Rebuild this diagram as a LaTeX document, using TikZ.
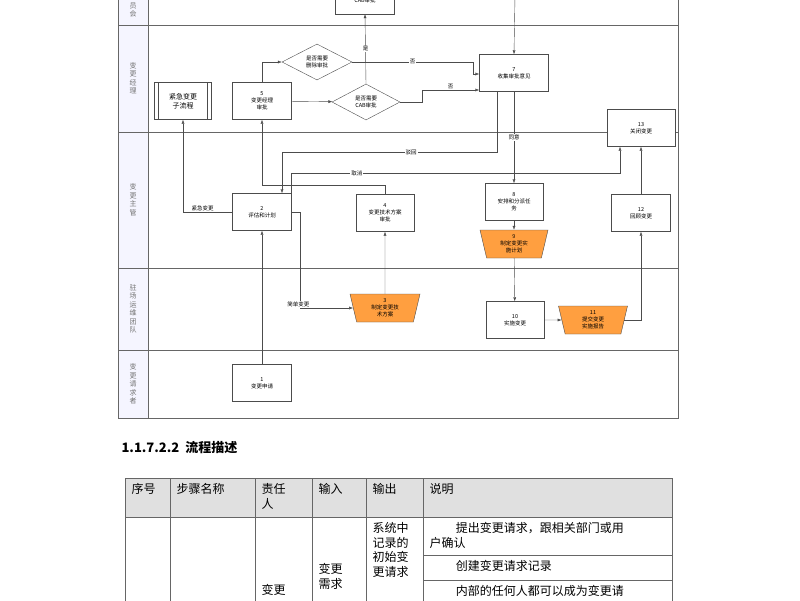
\documentclass[tikz,border=0pt]{standalone}
\usepackage{fontspec}
\setmainfont{Noto Sans CJK SC}
\usetikzlibrary{shapes.geometric,arrows.meta}

\begin{document}
\begin{tikzpicture}[x=1pt,y=-1pt,
    box/.style={draw=black!70,fill=white,minimum width=59pt,minimum height=37pt,
        inner sep=1pt,align=center,font=\fontsize{5.5}{7}\selectfont},
    task/.style={trapezium,trapezium stretches body,shape border rotate=180,
        trapezium angle=72,draw=black!70,fill=orange!75,minimum width=68pt,
        minimum height=28pt,inner sep=1pt,align=center,font=\fontsize{5.5}{7}\selectfont},
    choice/.style={diamond,aspect=2,draw=black!70,fill=white,minimum width=70pt,
        minimum height=36pt,inner sep=0pt,align=center,font=\fontsize{5.5}{7}\selectfont},
    flow/.style={draw=black!70,-{Latex[length=4pt,width=3pt]}},
    lbl/.style={fill=white,inner sep=1pt,font=\fontsize{5.5}{7}\selectfont},
    lane/.style={align=center,text=black!55,font=\fontsize{7}{8.5}\selectfont},
    cell/.style={anchor=north west,align=left,font=\fontsize{12}{14.5}\selectfont}]
    \useasboundingbox (0,0) rectangle (800,600);

    % swimlanes
    \fill[blue!4] (118,-5) rectangle (148,418);
    \draw[black!60,thick] (118,-5) rectangle (678,418);
    \draw[black!60] (148,-5) -- (148,418);
    \foreach \y in {25,132,268,350}
        \draw[black!60,thick] (118,\y) -- (678,\y);
    \node[lane] at (133,10) {员\\会};
    \node[lane] at (133,78) {变\\更\\经\\理};
    \node[lane] at (133,200) {变\\更\\主\\管};
    \node[lane] at (133,309) {驻\\场\\运\\维\\团\\队};
    \node[lane] at (133,384) {变\\更\\请\\求\\者};

    % steps
    \node[box,minimum height=28pt] (cab) at (365,0) {CAB审批};
    \node[choice] (dela) at (317,62) {是否需要\\删除审批};
    \node[choice,minimum width=68pt] (caba) at (366,102) {是否需要\\CAB审批};
    \node[box] (s5) at (262,101) {5\\变更经理\\审批};
    \node[box,minimum width=57pt,font=\fontsize{7}{9}\selectfont,
        path picture={\draw[black!70] ([xshift=4pt]path picture bounding box.north west) -- ([xshift=4pt]path picture bounding box.south west)
            ([xshift=-4pt]path picture bounding box.north east) -- ([xshift=-4pt]path picture bounding box.south east);}]
        (sub) at (183,101) {紧急变更\\子流程};
    \node[box,minimum width=69pt] (s7) at (514,73) {7\\收集审批意见};
    \node[box,minimum width=68pt] (s13) at (641,128) {13\\关闭变更};
    \node[box] (s2) at (262,212) {2\\评估和计划};
    \node[box,minimum width=58pt] (s4) at (385,213) {4\\变更技术方案\\审批};
    \node[box,minimum width=58pt] (s8) at (514,202) {8\\安排和分派任\\务};
    \node[task] (s9) at (514,244) {9\\制定变更实\\施计划};
    \node[box] (s12) at (641,213) {12\\回顾变更};
    \node[task,minimum width=70pt] (s3) at (385,308) {3\\制定变更技\\术方案};
    \node[box,minimum width=58pt] (s10) at (515,320) {10\\实施变更};
    \node[task,minimum width=69pt] (s11) at (593,320) {11\\提交变更\\实施报告};
    \node[box] (s1) at (262,383) {1\\变更申请};
    \coordinate (top) at (515,-5);

    % connectors
    \draw[flow] (s1) -- (s2);
    \draw[flow] (s2.west) -| node[lbl,pos=0.3,above] {紧急变更} (sub.south);
    \draw[flow] (s4.north) |- (262,185) -- (s5.south);
    \draw[flow] (s2.east) -- (300,212) |- node[lbl,pos=0.6,above left] {简单变更} (s3.west);
    \draw[flow] (s3) -- (s4);
    \draw[flow] (s5.north) |- (dela.west);
    \draw[flow] (s5) -- (caba);
    \draw[flow] (caba.north) -- node[lbl] {是} (cab.south);
    \draw[flow] (dela.east) -- node[lbl] {否} (473,62) |- ([yshift=-1pt]s7.west);
    \draw[flow] (caba.east) -- (422,102) -- (422,90) -- node[lbl,above] {否} ([yshift=-17pt]s7.west);
    \draw[flow] (top) -- (s7.north);
    \draw[flow] (s7) -- node[lbl] {同意} (s8);
    \draw[flow] ([xshift=-17pt]s7.south) |- node[lbl,pos=0.7] {驳回} (282,152) -- ([xshift=20pt]s2.north);
    \draw[flow] ([xshift=29pt]s2.north) |- node[lbl,pos=0.6] {取消} (620,173) -- ([xshift=-21pt]s13.south);
    \draw[flow] (s8) -- (s9);
    \draw[flow] (s9) -- (s10);
    \draw[flow] (s10) -- (s11);
    \draw[flow] (s11.east) -| (s12.south);
    \draw[flow] (s12) -- (s13);

    % description
    \node[anchor=west,font=\fontsize{13}{15}\selectfont\bfseries] (head) at (118,448) {1.1.7.2.2\ \ 流程描述};
    \fill[black!12] (125,478) rectangle (672,517);
    \draw[black!60] (125,478) rectangle (672,610);
    \draw[black!60] (125,517) -- (672,517) (423,555) -- (672,555) (423,580) -- (672,580);
    \foreach \x in {170,255,312,366,423}
        \draw[black!60] (\x,478) -- (\x,610);
    \node[cell] (c1) at (128,480) {序号};
    \node[cell] (c2) at (173,480) {步骤名称};
    \node[cell] (c3) at (258,480) {责任\\人};
    \node[cell] (c4) at (315,480) {输入};
    \node[cell] (c5) at (369,480) {输出};
    \node[cell] (c6) at (426,480) {说明};
    \node[cell] (o1) at (369,519) {系统中\\记录的\\初始变\\更请求};
    \node[cell] (i1) at (315,560) {变更\\需求};
    \node[cell] (r1) at (258,581) {变更};
    \node[cell] (d1) at (426,519) {\hspace{2.2em}提出变更请求，跟相关部门或用\\户确认};
    \node[cell] (d2) at (426,557) {\hspace{2.2em}创建变更请求记录};
    \node[cell] (d3) at (426,582) {\hspace{2.2em}内部的任何人都可以成为变更请};
\end{tikzpicture}
\end{document}
